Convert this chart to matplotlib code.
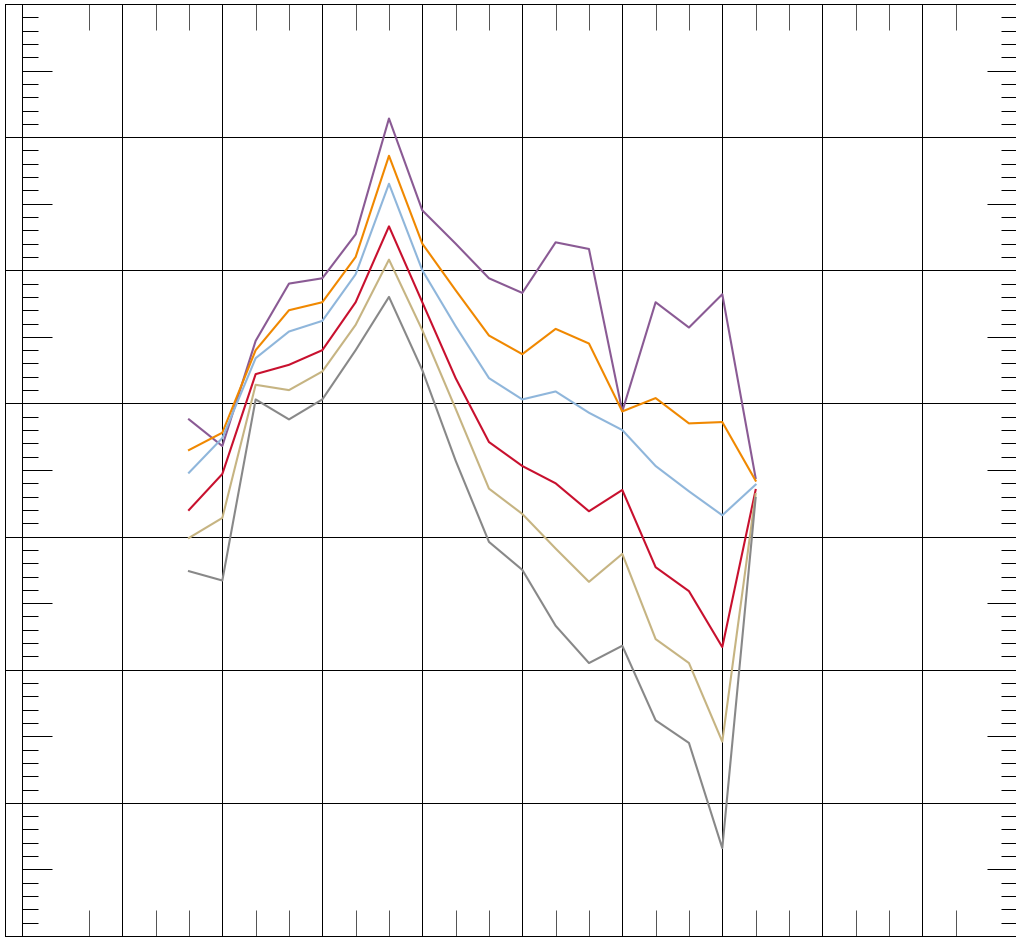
import matplotlib
matplotlib.use("Agg")
import matplotlib.pyplot as plt
from matplotlib.ticker import MultipleLocator, FixedLocator
import numpy as np

x_vals = list(range(2, 20))

purple = [38.8, 36.8, 44.7, 49.0, 49.4, 52.7, 61.4, 54.5, 52.0, 49.4, 48.3, 52.1, 51.6, 39.4, 47.6, 45.7, 48.2, 34.4]
orange = [36.5, 37.8, 44.0, 47.0, 47.6, 51.0, 58.6, 52.0, 48.5, 45.1, 43.7, 45.6, 44.5, 39.4, 40.4, 38.5, 38.6, 34.2]
lightblue = [34.8, 37.4, 43.4, 45.4, 46.2, 49.7, 56.5, 50.0, 45.8, 41.9, 40.3, 40.9, 39.3, 38.0, 35.3, 33.4, 31.6, 33.9]
crimson = [32.0, 34.7, 42.2, 42.9, 44.0, 47.6, 53.3, 47.6, 41.9, 37.1, 35.3, 34.0, 31.9, 33.5, 27.7, 25.9, 21.7, 33.5]
tan = [29.9, 31.4, 41.4, 41.0, 42.4, 45.9, 50.8, 45.5, 39.6, 33.6, 31.7, 29.1, 26.6, 28.7, 22.3, 20.5, 14.6, 33.2]
gray = [27.4, 26.7, 40.3, 38.8, 40.3, 44.0, 48.0, 42.5, 35.7, 29.6, 27.5, 23.3, 20.5, 21.8, 16.2, 14.5, 6.6, 32.9]

x_minor_ticks = list(range(-1, 26))

series = [
    (purple, "#8a5a94"),
    (orange, "#f08800"),
    (lightblue, "#8fb6db"),
    (crimson, "#c8102e"),
    (tan, "#c6b482"),
    (gray, "#888888"),
]

W, H = 1016, 939
fig = plt.figure(figsize=(W / 100, H / 100), dpi=100)
left, right, top, bottom = 5, 1016.6, 4, 936
ax = fig.add_axes([left / W, (H - bottom) / H, (right - left) / W, (bottom - top) / H])

px = 0.72  # one pixel in points
ax.set_xlim(-3.52, 26.83)
ax.set_ylim(0, 70)

# frame
ax.patch.set_edgecolor("black")
ax.patch.set_linewidth(px)
for s in ["top", "bottom", "right"]:
    ax.spines[s].set_linewidth(px)
ax.spines["left"].set_position(("data", -3))
ax.spines["left"].set_linewidth(px)

# x axis: grid every 3, ticks every 1
ax.xaxis.set_major_locator(MultipleLocator(3))
ax.xaxis.set_minor_locator(FixedLocator(x_minor_ticks))
ax.xaxis.grid(True, which="major", color="black", linewidth=px)
ax.tick_params(axis="x", which="major", length=0, top=True, bottom=True,
               labelbottom=False, labeltop=False)
ax.tick_params(axis="x", which="minor", direction="in", length=26 * px,
               width=px, color="#555555", top=True, bottom=True)

# y axis: grid every 10, medium ticks every 5, minor ticks every 1
ax.yaxis.set_major_locator(MultipleLocator(5))
ax.yaxis.set_minor_locator(MultipleLocator(1))
ax.tick_params(axis="y", which="major", direction="in", length=30 * px,
               width=px, color="black", left=True, right=True,
               labelleft=False, labelright=False)
ax.tick_params(axis="y", which="minor", direction="in", length=16 * px,
               width=px, color="black", left=True, right=True)
for yv in np.arange(10, 70, 10):
    ax.axhline(yv, color="black", linewidth=px, zorder=1)

for vals, col in series:
    ax.plot(x_vals, vals, color=col, linewidth=1.5, zorder=3)

fig.savefig("out.png", dpi=100)
